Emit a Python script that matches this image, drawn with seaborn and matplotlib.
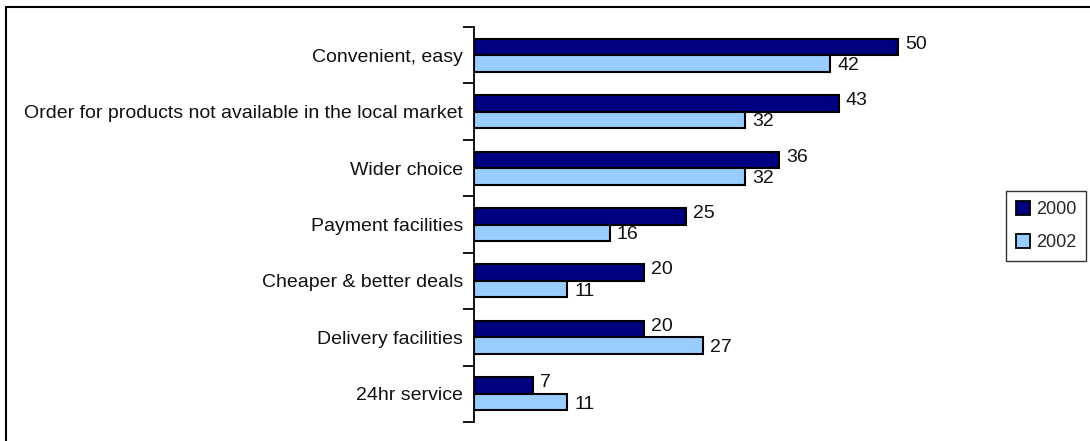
import matplotlib
matplotlib.use("Agg")
import matplotlib.pyplot as plt
import seaborn as sns
import pandas as pd
from matplotlib.lines import Line2D
from matplotlib.patches import Patch

# Reasons for shopping online, share of respondents (%)
categories = [
    "Convenient, easy",
    "Order for products not available in the local market",
    "Wider choice",
    "Payment facilities",
    "Cheaper & better deals",
    "Delivery facilities",
    "24hr service",
]
values_2000 = [50, 43, 36, 25, 20, 20, 7]
values_2002 = [42, 32, 32, 16, 11, 27, 11]
years = ["2000", "2002"]
colors = ["#000080", "#99CCFF"]

df = pd.DataFrame({
    "reason": categories * 2,
    "share": values_2000 + values_2002,
    "year": [years[0]] * len(categories) + [years[1]] * len(categories),
})

sns.set_theme(style="white")
plt.rcParams["font.family"] = ["Liberation Sans", "DejaVu Sans"]

fig = plt.figure(figsize=(10.9, 4.41), dpi=100)
ax = fig.add_axes([474 / 1090, 1 - 422 / 441, (1000 - 474) / 1090, (422 - 27) / 441])

sns.barplot(
    data=df, y="reason", x="share", hue="year", order=categories,
    hue_order=years, palette=colors, orient="h", width=0.585,
    edgecolor="black", linewidth=1.5, saturation=1, ax=ax, legend=False,
)

ax.set_xlim(0, 62)
ax.set_ylim(len(categories) - 0.5, -0.5)
ax.set_xlabel("")
ax.set_ylabel("")

# Value labels: 2000 nudged slightly up, 2002 slightly down
for container, dy in zip(ax.containers, [2.0, -1.5]):
    for ann in ax.bar_label(container, padding=5, fontsize=14, color="#111111"):
        ann.xyann = (5, dy)

# Axis styling: only the left spine, with ticks at category boundaries
for side in ["top", "right", "bottom"]:
    ax.spines[side].set_visible(False)
ax.spines["left"].set_color("black")
ax.spines["left"].set_linewidth(1.3)
ax.set_xticks([])
ax.tick_params(axis="y", which="major", length=0, labelsize=14, pad=8, labelcolor="#111111")
ax.set_yticks([i - 0.5 for i in range(len(categories) + 1)], minor=True)
ax.tick_params(axis="y", which="minor", length=8, width=1.3, color="black", left=True)

handles = [Patch(facecolor=c, edgecolor="black", linewidth=1.3) for c in colors]
leg = fig.legend(
    handles, years, loc="center left", bbox_to_anchor=(1006 / 1090, 1 - 226 / 441),
    frameon=True, fancybox=False, edgecolor="black", fontsize=13,
    handlelength=0.8, handleheight=0.8, handletextpad=0.3, borderpad=0.55,
    labelspacing=0.9, borderaxespad=0,
)
leg.get_frame().set_linewidth(1.0)

# Outer frame (left and top edges)
fig.add_artist(Line2D([6 / 1090, 6 / 1090], [0, 1 - 7 / 441], color="black", lw=1.5, transform=fig.transFigure))
fig.add_artist(Line2D([6 / 1090, 1], [1 - 7 / 441, 1 - 7 / 441], color="black", lw=1.5, transform=fig.transFigure))

fig.savefig("out.png", dpi=100)
